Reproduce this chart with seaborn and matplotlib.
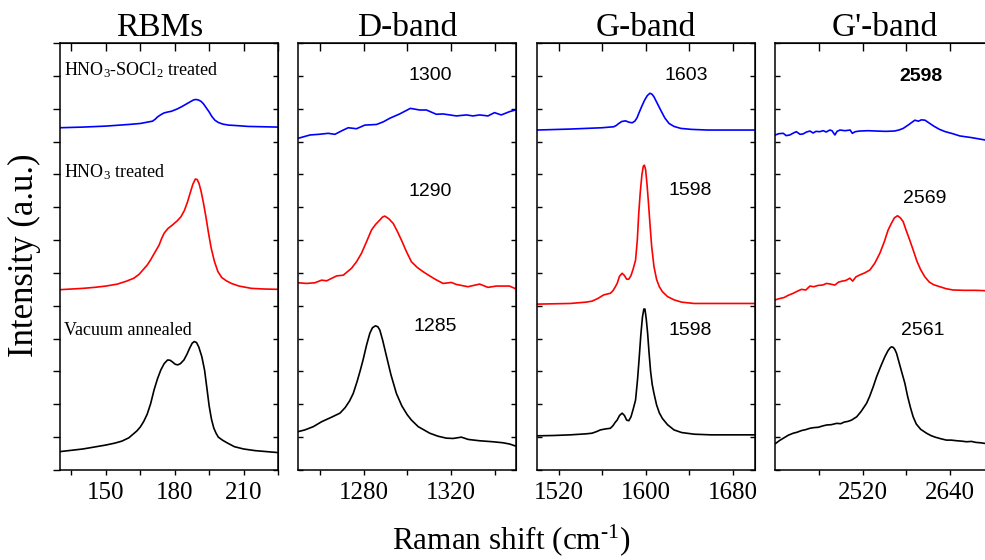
"""
Raman spectra of SWCNT films: RBM, D, G and G' bands for three treatments.
"""
import numpy as np
import pandas as pd
import seaborn as sns
import matplotlib.pyplot as plt
from matplotlib.ticker import FixedLocator, NullFormatter

# ---- data (x in cm-1, y in arbitrary units, offsets included) ----
# RBMs
rbm_x_vac = [130, 135, 140, 145, 150, 154, 157, 160, 162, 163.5, 165, 166.5, 168, 169.5, 171, 172.5,
             173.9, 175.4, 176.9, 178, 179, 180.2, 181.3, 182.5, 184, 185.3, 186.5, 187.6, 188.5,
             189.5, 190.5, 191.8, 193, 194, 195, 196, 197, 198, 199, 201, 203, 206, 210, 215, 220, 225]
rbm_y_vac = [0.56, 0.60, 0.64, 0.70, 0.76, 0.82, 0.88, 0.98, 1.10, 1.19, 1.31, 1.48, 1.70, 2.02, 2.44, 2.78,
             3.04, 3.24, 3.35, 3.34, 3.29, 3.22, 3.20, 3.24, 3.35, 3.52, 3.71, 3.86, 3.91,
             3.88, 3.74, 3.45, 3.04, 2.50, 1.95, 1.55, 1.28, 1.12, 1.00, 0.90, 0.82, 0.71, 0.64, 0.59,
             0.56, 0.53]
rbm_x_hno3 = [130, 135, 140, 145, 150, 155, 159, 162.2, 164.5, 166.5, 168, 169.5, 171.3, 173.2, 174.3,
              175.4, 177, 179, 181, 182.7, 184.2, 185.6, 186.8, 187.9, 189, 189.8, 190.6, 191.5, 192.6,
              193.7, 194.8, 195.9, 197.3, 198.8, 200.5, 202.5, 204.7, 208, 213.4, 219, 225]
rbm_y_hno3 = [5.49, 5.51, 5.53, 5.56, 5.60, 5.66, 5.75, 5.84, 5.96, 6.12, 6.24, 6.40, 6.62, 6.85, 7.05,
              7.21, 7.35, 7.46, 7.58, 7.71, 7.90, 8.17, 8.45, 8.70, 8.86, 8.84, 8.72, 8.48, 8.10,
              7.66, 7.18, 6.75, 6.35, 6.04, 5.86, 5.76, 5.68, 5.60, 5.53, 5.51, 5.50]
rbm_x_socl = [130, 140, 150, 160, 165, 168, 170.3, 171.5, 172.5, 174, 175.3, 177, 178.5, 181, 183, 185,
              187, 188.3, 189.3, 190.5, 191.5, 192.5, 193.7, 195, 196.2, 197.5, 199, 201, 203.5, 206,
              212, 225]
rbm_y_socl = [10.42, 10.44, 10.47, 10.52, 10.55, 10.59, 10.62, 10.68, 10.75, 10.82, 10.87, 10.90, 10.92,
              10.99, 11.06, 11.14, 11.22, 11.27, 11.28, 11.26, 11.22, 11.15, 11.03, 10.90, 10.76,
              10.65, 10.58, 10.53, 10.50, 10.49, 10.46, 10.44]

# D-band
d_x_vac = [1250, 1253, 1256.9, 1260.7, 1265, 1269.1, 1271.5, 1273.5, 1275.2, 1277, 1278.5, 1279.7,
           1281.3, 1282.8, 1284, 1285.4, 1286.5, 1287.4, 1288.7, 1290.5, 1292.5, 1295.0, 1297.5, 1300,
           1301.9, 1305, 1310.3, 1314, 1317.9, 1321, 1324.8, 1328, 1333.2, 1339.2, 1343.8, 1347, 1349.6]
d_y_vac = [1.17, 1.22, 1.32, 1.47, 1.60, 1.73, 1.90, 2.10, 2.33, 2.70, 3.05, 3.35,
           3.80, 4.16, 4.33, 4.39, 4.36, 4.26, 3.95, 3.45, 2.90, 2.33, 1.95, 1.68,
           1.52, 1.32, 1.12, 1.03, 0.97, 0.96, 1.00, 0.93, 0.89, 0.86, 0.83, 0.79, 0.73]
d_x_hno3 = [1250, 1253.8, 1257.6, 1260.7, 1263.0, 1267.6, 1270.6, 1274.4, 1276.8, 1279.0, 1281.3,
            1283.6, 1285.5, 1287.4, 1288.6, 1289.7, 1291.5, 1293.5, 1295.4, 1297.3, 1299.6, 1301.9,
            1304.5, 1307.2, 1310, 1313, 1316.4, 1320.2, 1322.5, 1327.8, 1333.2, 1337.0, 1340.8,
            1346.9, 1349.6]
d_y_hno3 = [5.70, 5.68, 5.70, 5.78, 5.76, 5.91, 5.93, 6.14, 6.35, 6.60, 6.95,
            7.31, 7.48, 7.61, 7.70, 7.73, 7.65, 7.51, 7.27, 7.00, 6.65, 6.34,
            6.17, 6.04, 5.92, 5.80, 5.68, 5.71, 5.65, 5.58, 5.66, 5.56, 5.60,
            5.60, 5.52]
d_x_socl = [1250, 1255.4, 1259.5, 1263.7, 1266.8, 1270, 1272.9, 1276.7, 1280.5, 1285.9, 1289, 1292.0,
            1296.5, 1301.4, 1305.7, 1308.8, 1313.3, 1316.4, 1322.5, 1327.1, 1330.1, 1333.2, 1337.0,
            1340.0, 1343.1, 1346.9, 1349.6]
d_y_socl = [10.10, 10.20, 10.22, 10.25, 10.22, 10.33, 10.42, 10.39, 10.50, 10.52, 10.60, 10.71,
            10.84, 11.01, 10.96, 10.96, 10.83, 10.84, 10.78, 10.81, 10.78, 10.81, 10.78,
            10.88, 10.81, 10.91, 10.96]

# G-band
g_x_vac = [1500, 1515, 1530.7, 1545, 1550.7, 1555, 1558.4, 1563, 1567.6, 1570, 1572, 1573.8, 1576,
           1578.4, 1580.5, 1582.5, 1584.5, 1586.5, 1588.5, 1590.7, 1592.5, 1594, 1595.5, 1597, 1598.3,
           1599.3, 1600.5, 1601.8, 1603, 1604.5, 1606, 1607.6, 1610, 1612.5, 1615.3, 1620, 1626, 1633,
           1644.5, 1660, 1680, 1700]
g_y_vac = [1.04, 1.05, 1.07, 1.10, 1.12, 1.17, 1.22, 1.25, 1.27, 1.35, 1.45, 1.52, 1.66,
           1.73, 1.66, 1.52, 1.50, 1.62, 1.85, 2.13, 2.75, 3.40, 4.10, 4.65, 4.90,
           4.90, 4.60, 4.15, 3.60, 3.00, 2.60, 2.33, 1.98, 1.74, 1.57, 1.38, 1.22, 1.14,
           1.09, 1.07, 1.07, 1.07]
g_x_hno3 = [1500, 1515, 1530.7, 1545, 1550.7, 1556, 1561.4, 1565, 1567.6, 1570, 1572, 1573.8, 1576,
            1578.4, 1580.5, 1582.5, 1584.5, 1586.5, 1588.5, 1590.7, 1592.3, 1593.6, 1595, 1596.5,
            1597.8, 1598.8, 1599.9, 1601.2, 1602.5, 1604, 1605.5, 1607.6, 1610, 1612.5, 1615.3, 1620,
            1626, 1633, 1644.5, 1670, 1700]
g_y_hno3 = [5.05, 5.06, 5.07, 5.11, 5.14, 5.22, 5.33, 5.36, 5.38, 5.46, 5.57, 5.68, 5.90,
            5.99, 5.92, 5.81, 5.81, 5.92, 6.12, 6.39, 7.00, 7.80, 8.45, 8.98,
            9.25, 9.28, 9.15, 8.70, 8.15, 7.45, 6.80, 6.19, 5.80, 5.58, 5.43, 5.28,
            5.18, 5.11, 5.07, 5.07, 5.07]
g_x_socl = [1500, 1530.7, 1560, 1570.7, 1573, 1575.3, 1578, 1581.5, 1584.5, 1587.6, 1590, 1592, 1593.7,
            1596.5, 1599.0, 1601.5, 1603.9, 1605.8, 1607.6, 1610.5, 1613.7, 1617.5, 1621.4, 1626,
            1632.2, 1642, 1656.8, 1700]
g_y_socl = [10.35, 10.38, 10.42, 10.45, 10.49, 10.55, 10.61, 10.63, 10.59, 10.57, 10.62, 10.72, 10.86,
            11.08, 11.26, 11.40, 11.47, 11.44, 11.36, 11.17, 10.96, 10.72, 10.55, 10.46,
            10.40, 10.37, 10.35, 10.35]

# G'-band
gp_x_vac = [2400, 2406, 2412, 2418, 2424.7, 2430, 2436, 2442, 2447.7, 2453, 2459, 2465, 2470.6, 2477,
            2484.4, 2490, 2495, 2500, 2505.0, 2512, 2518, 2525.6, 2530, 2535, 2539.4, 2545, 2550.8,
            2555, 2558, 2560, 2562.5, 2564.5, 2566.9, 2570, 2574, 2578.3, 2582, 2586, 2589.7, 2594,
            2600, 2608.1, 2614, 2620, 2628, 2635.6, 2642, 2650, 2656, 2663.1, 2670, 2676, 2682,
            2688.3, 2694, 2700]
gp_y_vac = [0.80, 0.90, 0.98, 1.06, 1.12, 1.15, 1.20, 1.23, 1.27, 1.29, 1.30, 1.34, 1.37, 1.38,
            1.42, 1.41, 1.46, 1.48, 1.52, 1.62, 1.78, 2.03, 2.25, 2.55, 2.84, 3.15, 3.45,
            3.63, 3.72, 3.75, 3.73, 3.67, 3.55, 3.30, 2.98, 2.64, 2.25, 1.90, 1.62, 1.40,
            1.24, 1.12, 1.05, 1.00, 0.95, 0.91, 0.91, 0.89, 0.88, 0.86, 0.87, 0.84, 0.83,
            0.81, 0.81, 0.80]
gp_x_hno3 = [2400, 2406, 2412, 2418, 2424.7, 2430, 2436, 2442, 2447.7, 2453, 2459, 2465, 2470.6, 2476,
             2482, 2487, 2492, 2497, 2502.7, 2506.4, 2511, 2516.4, 2523, 2530.2, 2537, 2543.9, 2550,
             2555.3, 2560, 2564, 2568.2, 2572, 2576.0, 2580, 2585, 2589.7, 2595, 2600, 2605.8, 2612,
             2618, 2626.4, 2635, 2644.7, 2660, 2675, 2688.3, 2700]
gp_y_hno3 = [5.18, 5.22, 5.25, 5.32, 5.38, 5.44, 5.50, 5.48, 5.60, 5.58, 5.62, 5.63, 5.68, 5.66,
             5.63, 5.72, 5.75, 5.77, 5.84, 5.75, 5.88, 5.94, 6.00, 6.09, 6.30, 6.60, 6.95,
             7.31, 7.52, 7.68, 7.74, 7.68, 7.56, 7.30, 7.00, 6.70, 6.35, 6.10, 5.88, 5.72,
             5.64, 5.58, 5.52, 5.48, 5.47, 5.47, 5.46, 5.46]
gp_x_socl = [2400, 2405, 2411, 2415, 2420, 2425, 2429, 2434, 2438, 2443, 2447.7, 2452, 2456, 2461,
             2466, 2470, 2475, 2478, 2482, 2485, 2489, 2496, 2503, 2506, 2510, 2516, 2528, 2539,
             2552, 2564, 2570, 2576, 2584, 2592, 2597, 2601, 2606, 2612, 2618, 2626, 2634, 2644,
             2654, 2670, 2688, 2700]
gp_y_socl = [10.20, 10.24, 10.25, 10.18, 10.20, 10.26, 10.30, 10.22, 10.23, 10.29, 10.32, 10.26,
             10.31, 10.30, 10.33, 10.29, 10.35, 10.33, 10.20, 10.31, 10.35, 10.33, 10.35, 10.25,
             10.30, 10.32, 10.33, 10.32, 10.31, 10.32, 10.35, 10.40, 10.52, 10.65, 10.62, 10.66,
             10.65, 10.56, 10.47, 10.37, 10.30, 10.24, 10.17, 10.12, 10.05, 10.03]

colors = {"vac": "black", "hno3": "red", "socl": "blue"}

titles = ["RBMs", "D-band", "G-band", "G'-band"]
title_x = [0.456, 0.5, 0.5, 0.5]
xlims = [(130, 225), (1250, 1350), (1500, 1700), (2400, 2700)]
major_ticks = [[150, 180, 210], [1280, 1320], [1520, 1600, 1680], [2520, 2640]]
minor_ticks = [[135, 165, 195, 225], [1260, 1300, 1340], [1560, 1640], [2460, 2580, 2700]]

# peak positions written over each band (panels 2-4)
peak_labels = [
    [],
    [("1300", 1310.7, 12.02), ("1290", 1310.7, 8.49), ("1285", 1312.6, 4.38)],
    [("1603", 1637.5, 12.02), ("1598", 1640.8, 8.52), ("1598", 1640.8, 4.26)],
    [("2598", 2600, 11.99), ("2569", 2605.8, 8.28), ("2561", 2603, 4.26)],
]
sample_labels = [("HNO$_3$-SOCl$_2$ treated", 12.18), ("HNO$_3$ treated", 9.07),
                 ("Vacuum annealed", 4.26)]

panels = [
    {"vac": (rbm_x_vac, rbm_y_vac), "hno3": (rbm_x_hno3, rbm_y_hno3), "socl": (rbm_x_socl, rbm_y_socl)},
    {"vac": (d_x_vac, d_y_vac), "hno3": (d_x_hno3, d_y_hno3), "socl": (d_x_socl, d_y_socl)},
    {"vac": (g_x_vac, g_y_vac), "hno3": (g_x_hno3, g_y_hno3), "socl": (g_x_socl, g_y_socl)},
    {"vac": (gp_x_vac, gp_y_vac), "hno3": (gp_x_hno3, gp_y_hno3), "socl": (gp_x_socl, gp_y_socl)},
]


def main():
    sns.set_style("ticks", {"axes.edgecolor": "black", "text.color": "black",
                            "xtick.color": "black", "ytick.color": "black",
                            "axes.labelcolor": "black"})
    plt.rcParams["font.family"] = ["Liberation Serif", "DejaVu Serif"]
    plt.rcParams["mathtext.fontset"] = "custom"
    plt.rcParams["mathtext.rm"] = "Liberation Serif"
    plt.rcParams["mathtext.it"] = "Liberation Serif:italic"

    fig = plt.figure(figsize=(9.85, 5.6), dpi=100)
    lefts = [60, 298.3, 536.7, 775.3]
    width = 218
    for i, left in enumerate(lefts):
        ax = fig.add_axes([left / 985, 90 / 560, width / 985, 427 / 560])
        for key in ["vac", "hno3", "socl"]:
            x, y = panels[i][key]
            df = pd.DataFrame({"x": x, "y": y})
            sns.lineplot(data=df, x="x", y="y", color=colors[key], linewidth=1.2,
                         estimator=None, ax=ax)
        ax.set_xlim(*xlims[i])
        ax.set_ylim(0, 13)
        ax.set_xlabel("")
        ax.set_ylabel("")
        ax.set_xticks(major_ticks[i])
        ax.xaxis.set_minor_locator(FixedLocator(minor_ticks[i]))
        ax.set_yticks(np.arange(0, 14, 1))
        ax.yaxis.set_major_formatter(NullFormatter())
        ax.tick_params(axis="x", which="both", direction="out", length=3.5, width=1,
                       labelsize=18, pad=5)
        ydir = "out" if i == 0 else "in"
        ax.tick_params(axis="y", which="both", direction=ydir, length=5 if i == 0 else 3.5,
                       width=1, left=True, right=False)
        for sp in ax.spines.values():
            sp.set_linewidth(1.1)
            sp.set_visible(True)

        # inward ticks on the top and right spines
        top = ax.secondary_xaxis("top")
        top.set_xticks(major_ticks[i] + minor_ticks[i])
        top.xaxis.set_major_formatter(NullFormatter())
        top.tick_params(direction="in", length=6, width=1)
        right = ax.secondary_yaxis("right")
        right.set_yticks(np.arange(0, 14, 1))
        right.yaxis.set_major_formatter(NullFormatter())
        right.tick_params(direction="in", length=3.5, width=1)

        ax.set_title(titles[i], fontsize=24, pad=5, x=title_x[i])

        for txt, tx, ty in peak_labels[i]:
            ax.text(tx, ty, txt, fontsize=14, ha="center", va="center",
                    family=["Liberation Sans", "DejaVu Sans"],
                    fontweight="bold" if txt == "2598" else "normal")
        if i == 0:
            for txt, ty in sample_labels:
                ax.text(131.8, ty, txt, fontsize=13, ha="left", va="center")

    fig.text(0.025, 0.545, "Intensity (a.u.)", rotation=90, fontsize=25,
             ha="center", va="center")
    fig.text(0.519, 0.036, r"Raman shift (cm$^{\text{-}1}$)", fontsize=22.5,
             ha="center", va="center")
    fig.savefig("out.png", dpi=100)


if __name__ == "__main__":
    main()
